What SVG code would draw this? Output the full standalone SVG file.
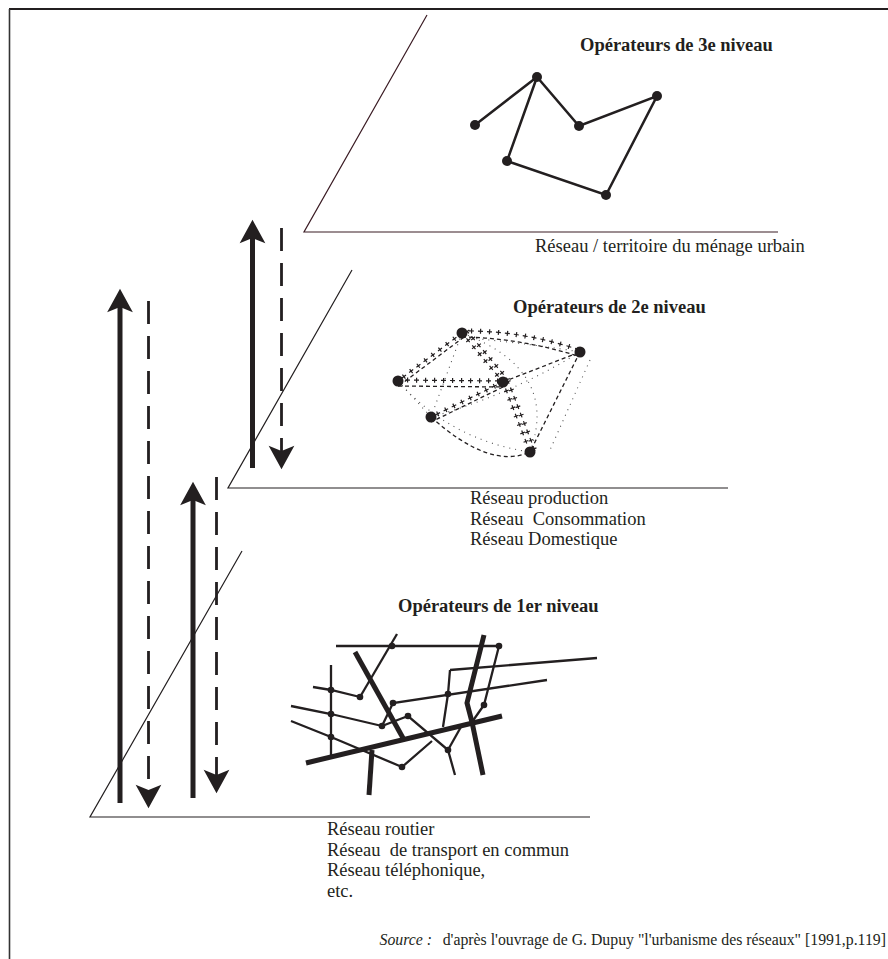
<svg xmlns="http://www.w3.org/2000/svg" xmlns:xlink="http://www.w3.org/1999/xlink" width="888" height="959" viewBox="0 0 888 959">
<style>
text{font-family:"Liberation Serif","Times New Roman",serif;fill:#231f20}
.t{font-size:18.5px}
.b{font-size:18.5px;font-weight:bold}
.s{font-size:15.8px}
.plane{stroke:#231f20;stroke-width:1.2;fill:none}
.p3{stroke:#3b1c24}
.net3{stroke:#231f20;stroke-width:2.5;fill:none}
.n3{fill:#231f20}
.tick{stroke:#231f20;stroke-width:5;stroke-dasharray:1.2 7.8;fill:none}
.along{stroke:#231f20;stroke-width:1.2;stroke-dasharray:5 4;stroke-dashoffset:2;fill:none}
.dash{stroke:#231f20;stroke-width:1.3;stroke-dasharray:4 3;fill:none}
.dot{stroke:#555;stroke-width:1.1;stroke-dasharray:1 5;fill:none}
.thin{stroke:#231f20;stroke-width:2.3;fill:none}
.thick{stroke:#231f20;stroke-width:5;fill:none}
.up{stroke:#231f20;stroke-width:5;fill:none;marker-end:url(#head)}
.down{stroke:#231f20;stroke-width:2.8;stroke-dasharray:23 12;fill:none;marker-end:url(#head)}
</style>
<defs>
<marker id="head" markerUnits="userSpaceOnUse" markerWidth="30" markerHeight="30" viewBox="-2 -14 28 28" refX="5" refY="0" orient="auto">
<path d="M22,0 L0,-12 L5,0 L0,12 Z" fill="#231f20"/>
</marker>
<path id="e14" d="M462,333 L503,382"/>
<path id="e14b" d="M467,331 L508,380"/>
<path id="e46" d="M503,382 L530,452"/>
<path id="e46b" d="M508,381 L535,451"/>
<path id="e12" d="M462,331 Q520,330 580,350"/>
<path id="e13" d="M462,333 L398,381"/>
<path id="e34" d="M398,380 L503,381"/>
<path id="e45" d="M503,382 L431,417"/>
</defs>

<g id="frame">
<line x1="9" y1="9" x2="888" y2="9" stroke="#231f20" stroke-width="2.2"/>
<line x1="9.5" y1="9" x2="9.5" y2="959" stroke="#333" stroke-width="1.6"/>
</g>

<g id="plane3">
<path class="plane p3" d="M427,15 L304,232 L778,232"/>
<text class="t" x="535" y="252">Réseau / territoire du ménage urbain</text>
</g>

<g id="plane2">
<path class="plane" d="M352,270 L228,488 L728,488"/>
<text class="t" x="470" y="504">Réseau production</text>
<text class="t" x="470" y="524.5" xml:space="preserve">Réseau  Consommation</text>
<text class="t" x="470" y="545">Réseau Domestique</text>
</g>

<g id="plane1">
<path class="plane" d="M242,551 L90,817 L590,817"/>
<text class="t" x="327" y="835">Réseau routier</text>
<text class="t" x="327" y="855.5" xml:space="preserve">Réseau  de transport en commun</text>
<text class="t" x="327" y="876">Réseau téléphonique,</text>
<text class="t" x="327" y="896.5">etc.</text>
</g>

<g id="network3">
<text class="b" x="580" y="51">Opérateurs de 3e niveau</text>
<path class="net3" d="M475,125 L537,77 L579,126 L657,96 L606,195 L507,161 L537,77"/>
<circle class="n3" cx="475" cy="125" r="5"/>
<circle class="n3" cx="537" cy="77" r="5"/>
<circle class="n3" cx="579" cy="126" r="5"/>
<circle class="n3" cx="657" cy="96" r="5"/>
<circle class="n3" cx="507" cy="161" r="5"/>
<circle class="n3" cx="606" cy="195" r="5"/>
</g>

<g id="network2">
<text class="b" x="513" y="313">Opérateurs de 2e niveau</text>
<path class="dot" d="M398,381 L431,417"/>
<path class="dot" d="M398,381 Q450,440 530,452"/>
<path class="dot" d="M462,333 L431,417"/>
<path class="dot" d="M431,417 Q510,395 580,352"/>
<path class="dot" d="M462,333 Q560,370 530,452"/>
<path class="dot" d="M590,360 L550,450"/>
<path class="dot" d="M470,338 Q540,345 580,352"/>
<path class="dash" d="M503,382 L580,352"/>
<path class="dash" d="M580,352 L530,452"/>
<path class="dash" d="M431,417 Q490,470 530,452"/>
<path class="dash" d="M462,337 Q520,338 578,356"/>
<path class="dash" d="M464,337 L400,385"/>
<path class="dash" d="M398,386 L503,387"/>
<path class="dash" d="M503,387 L431,422"/>
<use xlink:href="#e14" class="tick"/><use xlink:href="#e14" class="along"/>
<use xlink:href="#e14b" class="tick"/><use xlink:href="#e14b" class="along"/>
<use xlink:href="#e46" class="tick"/><use xlink:href="#e46" class="along"/>
<use xlink:href="#e46b" class="tick"/><use xlink:href="#e46b" class="along"/>
<use xlink:href="#e12" class="tick"/><use xlink:href="#e12" class="along"/>
<use xlink:href="#e13" class="tick"/><use xlink:href="#e13" class="along"/>
<use xlink:href="#e34" class="tick"/><use xlink:href="#e34" class="along"/>
<use xlink:href="#e45" class="tick"/><use xlink:href="#e45" class="along"/>
<circle class="n3" cx="462" cy="333" r="5.5"/>
<circle class="n3" cx="580" cy="352" r="5.5"/>
<circle class="n3" cx="398" cy="381" r="5.5"/>
<circle class="n3" cx="503" cy="382" r="5.5"/>
<circle class="n3" cx="431" cy="417" r="5.5"/>
<circle class="n3" cx="530" cy="452" r="5.5"/>
</g>

<g id="network1">
<text class="b" x="398" y="612">Opérateurs de 1er niveau</text>
<path class="thin" d="M336,646 H499"/>
<path class="thin" d="M397,634 L360,697"/>
<path class="thin" d="M313,687 L331,690 L360,697"/>
<path class="thin" d="M331,665 V755"/>
<path class="thin" d="M291,706 L331,714 L382,726"/>
<path class="thin" d="M382,726 L393,703 L547,680"/>
<path class="thin" d="M450,670 L597,658"/>
<path class="thin" d="M450,670 L448,694 L443,727"/>
<path class="thin" d="M382,726 L408,716 L448,750 L455,775"/>
<path class="thin" d="M448,750 L462,725"/>
<path class="thin" d="M291,721 L331,737 L402,767 L432,741"/>
<path class="thin" d="M499,646 L484,705 L472,722"/>
<path class="thick" d="M355,652 L403,738"/>
<path class="thick" d="M306,763 L502,716"/>
<path class="thick" d="M372,750 L369,795"/>
<path class="thick" d="M484,635 L467,703 L472,722 L483,775"/>
<circle class="n3" cx="392" cy="646" r="3.3"/>
<circle class="n3" cx="499" cy="646" r="3.3"/>
<circle class="n3" cx="331" cy="690" r="3.3"/>
<circle class="n3" cx="360" cy="697" r="3.3"/>
<circle class="n3" cx="331" cy="714" r="3.3"/>
<circle class="n3" cx="393" cy="703" r="3.3"/>
<circle class="n3" cx="448" cy="694" r="3.3"/>
<circle class="n3" cx="484" cy="705" r="3.3"/>
<circle class="n3" cx="408" cy="716" r="3.3"/>
<circle class="n3" cx="382" cy="726" r="3.3"/>
<circle class="n3" cx="331" cy="737" r="3.3"/>
<circle class="n3" cx="448" cy="750" r="3.3"/>
<circle class="n3" cx="402" cy="767" r="3.3"/>
</g>

<g id="connectors">
<line class="up" x1="120" y1="803" x2="120" y2="307"/>
<line class="down" x1="148.5" y1="301" x2="148.5" y2="790"/>
<line class="up" x1="252.5" y1="468" x2="252.5" y2="238"/>
<line class="down" x1="281.5" y1="228" x2="281.5" y2="451"/>
<line class="up" x1="193" y1="798" x2="193" y2="500"/>
<line class="down" x1="216.5" y1="477" x2="216.5" y2="775"/>
</g>

<g id="source">
<text class="s" x="432" y="945" text-anchor="end" font-style="italic">Source :</text>
<text class="s" x="886" y="945" text-anchor="end">d'après l'ouvrage de G. Dupuy "l'urbanisme des réseaux" [1991,p.119]</text>
</g>
</svg>
